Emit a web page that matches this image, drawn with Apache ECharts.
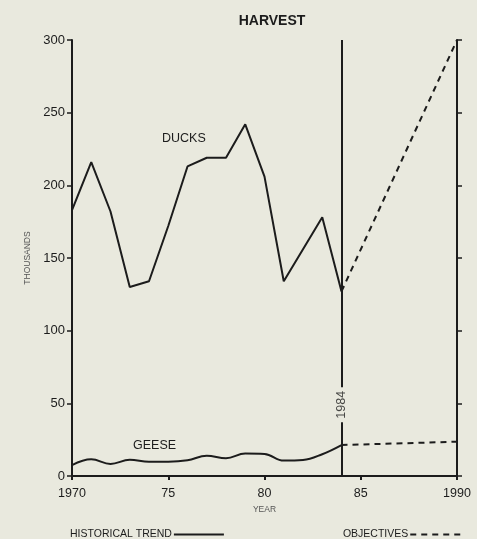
<!DOCTYPE html>
<html>
<head>
<meta charset="utf-8">
<script src="https://cdn.jsdelivr.net/npm/echarts@6/dist/echarts.min.js"></script>
<style>
  html, body { margin: 0; padding: 0; background: #e9e9de; }
  #chart { width: 477px; height: 539px; }
</style>
</head>
<body>
<div id="chart"></div>
<script>
// Harvest history (thousands) and the 1990 objectives
const years = [1970, 1971, 1972, 1973, 1974, 1975, 1976, 1977, 1978, 1979, 1980, 1981, 1982, 1983, 1984];
const ducks = [183, 216, 182, 130, 134, 172, 213, 219, 219, 242, 206, 134, 156, 178, 127];
const geese = [7.5, 11.5, 8.3, 11.2, 9.8, 9.8, 10.8, 14, 12.2, 15.5, 15.2, 10.6, 11, 15, 21.3];
const objectiveYears = [1984, 1990];
const ducksObjective = [127, 300];
const geeseObjective = [21.3, 23.6];
const xTicks = [1970, 75, 80, 85, 1990];
const markerYear = 1984;

const ink = '#1c1c1c';
const font = '"Liberation Sans", Arial, Helvetica, sans-serif';

const pairs = (xs, ys) => xs.map((x, i) => [x, ys[i]]);

const chart = echarts.init(document.getElementById('chart'), null, { renderer: 'canvas' });

const solid = { color: ink, width: 2, type: 'solid' };
const dashed = { color: ink, width: 2, type: [6, 5] };

chart.setOption({
  backgroundColor: '#e9e9de',
  animation: false,
  textStyle: { fontFamily: font, color: ink },
  title: {
    text: 'HARVEST',
    left: 267,
    top: 9,
    textAlign: 'center',
    textStyle: { fontFamily: font, fontSize: 14, fontWeight: 'bold', color: ink }
  },
  grid: { left: 72, right: 20, top: 40, bottom: 63 },
  legend: {
    left: 70,
    top: 529,
    padding: 0,
    align: 'right',
    itemWidth: 50,
    itemHeight: 8,
    itemGap: 118,
    itemStyle: { opacity: 0 },
    data: ['HISTORICAL TREND', 'OBJECTIVES'],
    textStyle: { fontFamily: font, fontSize: 10.5, color: ink, padding: [0, -3, 0, 0] }
  },
  xAxis: {
    type: 'value',
    min: 1970,
    max: 1990,
    interval: 5,
    name: 'YEAR',
    nameLocation: 'middle',
    nameGap: 28,
    nameTextStyle: { fontFamily: font, fontSize: 8.5, color: '#555' },
    axisLine: { lineStyle: { color: ink, width: 2 } },
    axisTick: { show: true, length: 4, lineStyle: { color: ink, width: 2 } },
    axisLabel: {
      fontFamily: font, fontSize: 12.5, color: ink, margin: 11,
      formatter: v => {
        const i = [1970, 1975, 1980, 1985, 1990].indexOf(v);
        return i >= 0 ? String(xTicks[i]) : '';
      }
    },
    splitLine: { show: false }
  },
  yAxis: [
    {
      type: 'value',
      min: 0,
      max: 300,
      interval: 50,
      name: 'THOUSANDS',
      nameLocation: 'middle',
      nameGap: 39,
      nameTextStyle: { fontFamily: font, fontSize: 8.5, color: '#555' },
      axisLine: { show: true, lineStyle: { color: ink, width: 2 } },
      axisTick: { show: true, length: 5, lineStyle: { color: ink, width: 1.5 } },
      axisLabel: { fontFamily: font, fontSize: 13, color: ink, margin: 7 },
      splitLine: { show: false }
    },
    {
      type: 'value',
      position: 'right',
      min: 0,
      max: 300,
      interval: 50,
      axisLine: { show: true, lineStyle: { color: ink, width: 2 } },
      axisTick: { show: true, length: 5, lineStyle: { color: ink, width: 1.5 } },
      axisLabel: { show: false },
      splitLine: { show: false }
    }
  ],
  series: [
    {
      name: 'HISTORICAL TREND',
      type: 'line',
      data: pairs(years, ducks),
      symbol: 'none',
      lineStyle: solid,
      itemStyle: { color: ink },
      z: 3,
      markLine: {
        silent: true,
        symbol: 'none',
        label: { show: false },
        lineStyle: { color: ink, width: 2, type: 'solid' },
        data: [
          [{ coord: [markerYear, 0] }, { coord: [markerYear, 37] }],
          [{ coord: [markerYear, 61] }, { coord: [markerYear, 300] }]
        ]
      }
    },
    {
      name: 'HISTORICAL TREND',
      type: 'line',
      data: pairs(years, geese),
      symbol: 'none',
      smooth: 0.4,
      lineStyle: solid,
      itemStyle: { color: ink },
      z: 3
    },
    {
      name: 'OBJECTIVES',
      type: 'line',
      data: pairs(objectiveYears, ducksObjective),
      symbol: 'none',
      lineStyle: dashed,
      itemStyle: { color: ink },
      z: 3
    },
    {
      name: 'OBJECTIVES',
      type: 'line',
      data: pairs(objectiveYears, geeseObjective),
      symbol: 'none',
      lineStyle: dashed,
      itemStyle: { color: ink },
      z: 3
    },
    {
      // year label set into the vertical 1984 marker
      type: 'scatter',
      data: [[markerYear, 49]],
      symbolSize: 0,
      silent: true,
      label: {
        show: true,
        position: 'inside',
        rotate: 90,
        formatter: String(markerYear),
        fontFamily: font,
        fontSize: 12.5,
        color: ink
      },
      z: 4
    }
  ],
  graphic: [
    {
      type: 'text', left: 162, top: 132,
      style: { text: 'DUCKS', font: '12.5px ' + font, fill: ink }
    },
    {
      type: 'text', left: 133, top: 439,
      style: { text: 'GEESE', font: '12.5px ' + font, fill: ink }
    }
  ]
});
</script>
</body>
</html>
